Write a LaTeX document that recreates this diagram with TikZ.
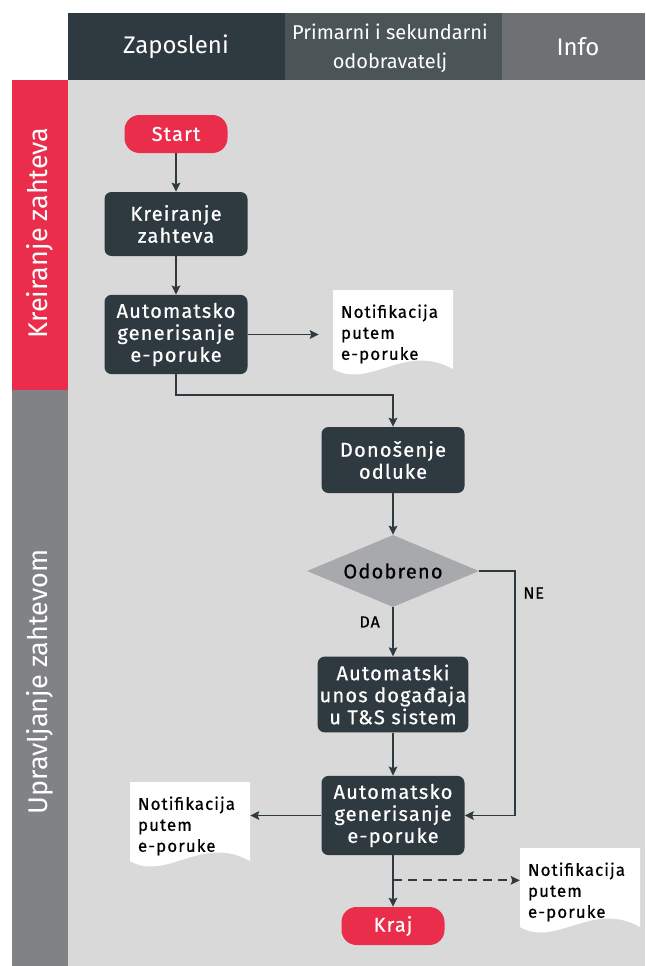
\documentclass[tikz,border=0pt]{standalone}
\usepackage{fontspec}
\setmainfont{Fira Sans}
\newfontfamily\wideff[LetterSpace=6, FakeBold=0.7]{Fira Sans}
\usetikzlibrary{arrows.meta,shapes.geometric,calc}

\begin{document}
\begin{tikzpicture}[x={(1pt,0)}, y={(0,-1pt)},
	box/.style={fill=dbox, rounded corners=7pt, text=white, align=center,
		minimum width=143pt, inner xsep=2pt, inner ysep=8pt,
		font=\wideff\fontsize{20}{22}\selectfont},
	term/.style={fill=mred, rounded corners=15pt, text=white,
		minimum width=103pt, minimum height=38pt, font=\wideff\fontsize{20}{22}\selectfont},
	dec/.style={diamond, aspect=2.39, fill=dgray, minimum width=172pt, minimum height=72pt,
		inner sep=0pt, font=\wideff\fontsize{20}{22}\selectfont, text=black},
	doc/.style={minimum width=120pt, minimum height=88pt, text width=104pt,
		align=left, inner sep=0pt, text=black, font=\wideff\fontsize{17}{21}\selectfont,
		path picture={
			\fill[white] (path picture bounding box.north west)
			-- (path picture bounding box.north east)
			-- ($(path picture bounding box.south east)+(0pt,9pt)$)
			.. controls ($(path picture bounding box.south west)+(72pt,36pt)$)
			and ($(path picture bounding box.south west)+(36pt,-12pt)$)
			.. ($(path picture bounding box.south west)+(0pt,9pt)$) -- cycle;
		}},
	lane/.style={rotate=90, text=white, font=\fontsize{27}{30}\selectfont},
	head/.style={text=white, align=center},
	lbl/.style={text=black, font=\wideff\fontsize{16}{18}\selectfont},
	arr/.style={->, line width=1.8pt, draw=dbox, >={Stealth[length=9pt, width=8.5pt, inset=1.5pt]}},
	dasharr/.style={arr, dash pattern=on 9pt off 6pt}
	]
	\definecolor{mred}{HTML}{E92D4B}
	\definecolor{dbox}{HTML}{2E3A3F}
	\definecolor{hmid}{HTML}{4B5457}
	\definecolor{hlight}{HTML}{6D7174}
	\definecolor{lgray}{HTML}{808286}
	\definecolor{bg}{HTML}{D9D9D9}
	\definecolor{dgray}{HTML}{A7A9AC}
	
	\useasboundingbox (0,0) rectangle (645,966);
	
	% Header
	\fill[dbox] (68,13) rectangle (285,80);
	\fill[hmid] (285,13) rectangle (502,80);
	\fill[hlight] (502,13) rectangle (645,80);
	\node[head, font=\fontsize{24}{26}\selectfont] (zaposleni) at (176,47) {Zaposleni};
	\node[head, font=\fontsize{20}{29}\selectfont] (odobravatelj) at (390,48) {Primarni i sekundarni\\odobravatelj};
	\node[head, font=\fontsize{24}{26}\selectfont] (info) at (578,47) {Info};
	
	% Lanes
	\fill[mred] (12,80) rectangle (68,390);
	\fill[lgray] (12,390) rectangle (68,966);
	\fill[bg] (68,80) rectangle (645,966);
	\node[lane] (kreiranjelane) at (40,233) {Kreiranje zahteva};
	\node[lane] (upravljanjelane) at (40,682) {Upravljanje zahtevom};
	
	% Nodes
	\node[term] (start) at (176,134) {Start};
	\node[box, minimum height=64pt] (kreiranje) at (176,224) {Kreiranje\\zahteva};
	\node[box] (auto1) at (176,334.5) {Automatsko\\generisanje\\e-poruke};
	\node[doc] (notif1) at (393,334) {Notifikacija\\putem\\e-poruke};
	\node[box, minimum height=66pt] (donosenje) at (393,460) {Donošenje\\odluke};
	\node[dec] (odobreno) at (393,571) {Odobreno};
	\node[box] (automatski) at (393,694.5) {Automatski\\unos događaja\\u T\&S sistem};
	\node[box] (auto2) at (393,815.5) {Automatsko\\generisanje\\e-poruke};
	\node[doc] (notif2) at (190,826) {Notifikacija\\putem\\e-poruke};
	\node[doc] (notif3) at (580,892) {Notifikacija\\putem\\e-poruke};
	\node[term] (kraj) at (393,926) {Kraj};
	
	% Connectors
	\draw[arr] (start) -- (kreiranje);
	\draw[arr] (kreiranje) -- (auto1);
	\draw[arr, shorten >=14pt] (auto1.east) -- (auto1.east -| notif1.west);
	\draw[arr] (auto1.south) -- ++(0,21) -| (donosenje.north);
	\draw[arr] (donosenje) -- (odobreno);
	\draw[arr] (odobreno) -- node[lbl, pos=0.3, left=9pt] {DA} (automatski);
	\draw[arr] (odobreno.east) -- ++(36,0) |- node[lbl, pos=0.045, right=4pt] {NE} (auto2.east);
	\draw[arr] (automatski) -- (auto2);
	\draw[arr] (auto2.west) -- (auto2.west -| notif2.east);
	\draw[arr] (auto2) -- (kraj);
	\coordinate (split) at ($(auto2.south)+(0,25)$);
	\draw[dasharr] (split) -- (split -| notif3.west);
\end{tikzpicture}
\end{document}
